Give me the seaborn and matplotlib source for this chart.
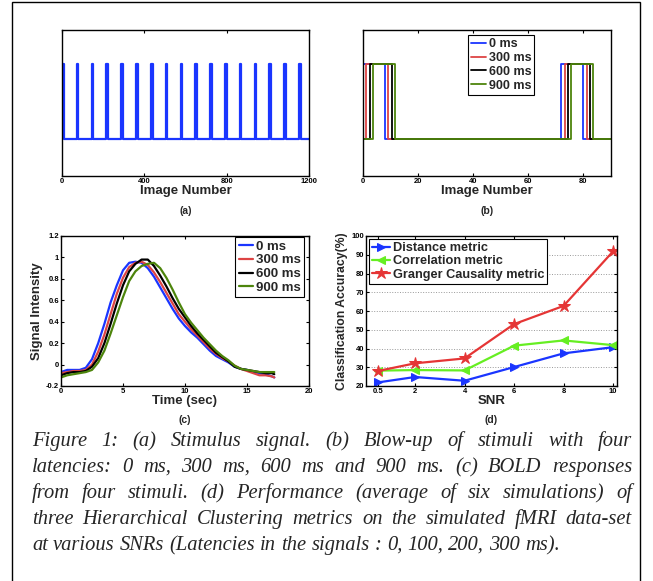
import numpy as np
import pandas as pd
import matplotlib
matplotlib.use("Agg")
import matplotlib.pyplot as plt
import seaborn as sns
from matplotlib.patches import Rectangle

# ---------------- data ----------------
stim_onsets_a = [0, 72, 144, 216, 288, 360, 432, 504, 576, 648, 720, 792,
                 864, 936, 1008, 1080, 1152]
stim_duration = 8
n_images_a = 1200
xticks_a = [0, 400, 800, 1200]

latency_labels = ["0 ms", "300 ms", "600 ms", "900 ms"]
latency_shift_images = [0, 1.2, 2.4, 3.6]
onsets_b = [0, 72]
n_images_b = 90
xticks_b = [0, 20, 40, 60, 80]

bold_time = [0, 0.5, 1, 1.5, 2, 2.5, 3, 3.5, 4, 4.5, 5, 5.5, 6, 6.5, 7, 7.5, 8,
             8.5, 9, 9.5, 10, 10.5, 11, 11.5, 12, 12.5, 13, 13.5, 14, 14.5, 15,
             15.5, 16, 16.5, 17, 17.2]
bold_0ms = [-0.07, -0.05, -0.05, -0.05, -0.03, 0.05, 0.20, 0.38, 0.58, 0.74, 0.88,
            0.95, 0.96, 0.95, 0.90, 0.82, 0.72, 0.62, 0.52, 0.43, 0.36, 0.30, 0.25,
            0.19, 0.13, 0.08, 0.05, 0.02, -0.02, -0.04, -0.05, -0.07, -0.08, -0.09,
            -0.11, -0.12]
bold_300ms = [-0.08, -0.07, -0.06, -0.06, -0.05, 0.00, 0.12, 0.28, 0.47, 0.66, 0.81,
              0.91, 0.95, 0.96, 0.93, 0.86, 0.77, 0.67, 0.57, 0.47, 0.40, 0.33, 0.27,
              0.21, 0.15, 0.10, 0.06, 0.03, -0.01, -0.04, -0.06, -0.08, -0.10, -0.10,
              -0.11, -0.12]
bold_600ms = [-0.10, -0.08, -0.07, -0.07, -0.06, -0.02, 0.06, 0.20, 0.38, 0.57, 0.74,
              0.87, 0.94, 0.98, 0.98, 0.92, 0.83, 0.73, 0.62, 0.52, 0.44, 0.36, 0.29,
              0.23, 0.17, 0.11, 0.07, 0.03, -0.02, -0.04, -0.05, -0.06, -0.07, -0.08,
              -0.08, -0.09]
bold_900ms = [-0.12, -0.10, -0.09, -0.08, -0.07, -0.05, 0.02, 0.13, 0.29, 0.46, 0.63,
              0.78, 0.87, 0.92, 0.94, 0.95, 0.90, 0.81, 0.70, 0.58, 0.47, 0.39, 0.32,
              0.25, 0.19, 0.13, 0.08, 0.04, -0.01, -0.04, -0.05, -0.06, -0.07, -0.07,
              -0.07, -0.07]
yticks_c = [-0.2, 0, 0.2, 0.4, 0.6, 0.8, 1, 1.2]
yticklabels_c = ["-0.2", "0", "0.2", "0.4", "0.6", "0.8", "1", "1.2"]
xticks_c = [0, 5, 10, 15, 20]

snr = [0.5, 2, 4, 6, 8, 10]
snr_labels = ["0.5", "2", "4", "6", "8", "10"]
acc_distance = [21.9, 24.8, 22.8, 30.1, 37.4, 40.7]
acc_correlation = [28.2, 28.5, 28.3, 41.5, 44.3, 41.8]
acc_granger = [28.0, 32.1, 34.7, 53.0, 62.7, 91.8]
metric_labels = ["Distance metric", "Correlation metric", "Granger Causality metric"]

caption_lines = [
    "Figure 1: (a) Stimulus signal. (b) Blow-up of stimuli with four",
    "latencies: 0 ms, 300 ms, 600 ms and 900 ms. (c) BOLD responses",
    "from four stimuli. (d) Performance (average of six simulations) of",
    "three Hierarchical Clustering metrics on the simulated fMRI data-set",
    "at various SNRs (Latencies in the signals : 0, 100, 200, 300 ms).",
]

# ---------------- style ----------------
sns.set_theme(style="ticks")
plt.rcParams.update({
    "font.family": ["Liberation Sans", "DejaVu Sans"],
    "font.weight": "bold",
    "axes.labelweight": "bold",
    "axes.unicode_minus": False,
    "xtick.direction": "in", "ytick.direction": "in",
    "xtick.top": True, "ytick.right": True,
    "xtick.major.size": 2.5, "ytick.major.size": 2.5,
    "xtick.major.width": 0.8, "ytick.major.width": 0.8,
    "xtick.major.pad": 1.5, "ytick.major.pad": 1.5,
    "axes.linewidth": 1.0, "axes.edgecolor": "black",
    "xtick.color": "black", "ytick.color": "black",
    "legend.fancybox": False, "legend.framealpha": 1.0,
    "legend.edgecolor": "black",
})

BLUE = "#1a35ff"
RED = "#dd4444"
BLACK = "#000000"
GREEN = "#4d850c"
LIME = "#66ee22"
RED_D = "#e53535"

W, H = 653, 581
fig = plt.figure(figsize=(W / 100, H / 100), dpi=100)
fig.patch.set_facecolor("white")

# outer box
fig.patches.append(Rectangle((12 / W, -0.1), (640 - 12) / W, 1.1 - 2 / H,
                             transform=fig.transFigure, fill=False,
                             edgecolor="black", linewidth=1.0))


def axpos(l, t, r, b):
    return [l / W, 1 - b / H, (r - l) / W, (b - t) / H]


def boxcar(onsets, dur, shift, end):
    xs, ys = [0.0], [0.0]
    for on in onsets:
        s = on + shift
        xs += [s, s, s + dur, s + dur]
        ys += [0, 1, 1, 0]
    xs.append(end)
    ys.append(0)
    return xs, ys


TICK_FS = 5.5
LABEL_FS = 9.5

# ---------- (a) ----------
ax_a = fig.add_axes(axpos(62, 30, 309, 176))
xs, ys = boxcar(stim_onsets_a, stim_duration, 0, n_images_a)
sns.lineplot(x=xs, y=ys, sort=False, estimator=None, color=BLUE, linewidth=1.6, ax=ax_a)
ax_a.set_xlim(0, n_images_a)
ax_a.set_ylim(-0.5, 1.45)
ax_a.set_xticks(xticks_a)
ax_a.set_xticklabels([str(v) for v in xticks_a], fontsize=TICK_FS, fontweight="bold")
ax_a.set_yticks([])
ax_a.set_xlabel("Image Number", fontsize=LABEL_FS, labelpad=0)

# ---------- (b) ----------
ax_b = fig.add_axes(axpos(363, 30, 611, 176))
for lab, sh, col in zip(latency_labels, latency_shift_images, [BLUE, RED, BLACK, GREEN]):
    xs, ys = boxcar(onsets_b, stim_duration, sh, n_images_b)
    sns.lineplot(x=xs, y=ys, sort=False, estimator=None, color=col, linewidth=1.3,
                 ax=ax_b, label=lab)
ax_b.set_xlim(0, n_images_b)
ax_b.set_ylim(-0.5, 1.45)
ax_b.set_xticks(xticks_b)
ax_b.set_xticklabels([str(v) for v in xticks_b], fontsize=TICK_FS, fontweight="bold")
ax_b.set_yticks([])
ax_b.set_xlabel("Image Number", fontsize=LABEL_FS, labelpad=0)
leg = ax_b.legend(loc="upper left", bbox_to_anchor=(0.423, 0.966), borderaxespad=0,
                  prop={"size": 9, "weight": "bold"}, handlelength=1.2,
                  handletextpad=0.2, borderpad=0.25, labelspacing=0.15)
leg.get_frame().set_linewidth(0.8)

# ---------- (c) ----------
ax_c = fig.add_axes(axpos(61, 236, 309, 386))
bold_df = pd.DataFrame({"t": bold_time, "0 ms": bold_0ms, "300 ms": bold_300ms,
                        "600 ms": bold_600ms, "900 ms": bold_900ms})
for lab, col in zip(latency_labels, [BLUE, RED, BLACK, GREEN]):
    sns.lineplot(data=bold_df, x="t", y=lab, color=col, linewidth=1.6, ax=ax_c, label=lab)
ax_c.set_xlim(0, 20)
ax_c.set_ylim(-0.2, 1.2)
ax_c.set_xticks(xticks_c)
ax_c.set_xticklabels([str(v) for v in xticks_c], fontsize=TICK_FS, fontweight="bold")
ax_c.set_yticks(yticks_c)
ax_c.set_yticklabels(yticklabels_c, fontsize=TICK_FS, fontweight="bold")
ax_c.set_xlabel("Time (sec)", fontsize=LABEL_FS, labelpad=0)
ax_c.set_ylabel("Signal Intensity", fontsize=LABEL_FS, labelpad=2)
leg = ax_c.legend(loc="upper right", bbox_to_anchor=(0.98, 0.993), borderaxespad=0,
                  prop={"size": 9.5, "weight": "bold"}, handlelength=1.1,
                  handletextpad=0.2, borderpad=0.25, labelspacing=0.12)
leg.get_frame().set_linewidth(0.8)

# ---------- (d) ----------
ax_d = fig.add_axes(axpos(366, 236, 617, 386))
acc_df = pd.DataFrame({"SNR": snr, "dist": acc_distance, "corr": acc_correlation,
                       "gran": acc_granger})
for col_name, lab, col, mk, ms in zip(["dist", "corr", "gran"], metric_labels,
                                      [BLUE, LIME, RED_D], [">", "<", "*"], [6, 6, 9]):
    sns.lineplot(data=acc_df, x="SNR", y=col_name, color=col, linewidth=1.6, marker=mk,
                 markersize=ms, markeredgecolor=col, ax=ax_d, label=lab)
ax_d.set_xlim(0.02, 10.16)
ax_d.set_ylim(20, 100)
ax_d.set_xticks(snr)
ax_d.set_xticklabels(snr_labels, fontsize=TICK_FS, fontweight="bold")
ax_d.set_yticks(range(20, 101, 10))
ax_d.set_yticklabels([str(v) for v in range(20, 101, 10)], fontsize=TICK_FS,
                     fontweight="bold")
ax_d.yaxis.grid(True, linestyle=":", color="#999999", linewidth=0.7)
ax_d.set_xlabel("SNR", fontsize=LABEL_FS, labelpad=0)
ax_d.set_ylabel("Classification Accuracy(%)", fontsize=8.8, labelpad=2)
leg = ax_d.legend(loc="upper left", bbox_to_anchor=(0.012, 0.98), borderaxespad=0,
                  prop={"size": 9.2, "weight": "bold"}, handlelength=1.4,
                  handletextpad=0.2, borderpad=0.25, labelspacing=0.1)
leg.get_frame().set_linewidth(0.8)

# sub-figure labels
for lab, (xc, yc) in zip(["(a)", "(b)", "(c)", "(d)"],
                         [(186, 211), (487, 211), (185, 420), (491, 420)]):
    fig.text(xc / W, 1 - yc / H, lab, ha="center", va="center", fontsize=7.5,
             fontweight="bold")

# ---------- caption (justified) ----------
fig.canvas.draw()
renderer = fig.canvas.get_renderer()
cap_left, cap_right = 32, 632
baselines = [446, 472, 498, 524, 550]
cap_kw = dict(family=["Liberation Serif", "DejaVu Serif"], style="italic",
              fontweight="normal", fontsize=14.8, va="baseline", ha="left")
space_t = fig.text(0, 0, "a a", **cap_kw)
aa_t = fig.text(0, 0, "aa", **cap_kw)
space_w = space_t.get_window_extent(renderer).width - aa_t.get_window_extent(renderer).width
space_t.remove()
aa_t.remove()
for i, (line, yb) in enumerate(zip(caption_lines, baselines)):
    words = line.split(" ")
    texts = [fig.text(0, 1 - yb / H, w, **cap_kw) for w in words]
    widths = [t.get_window_extent(renderer).width for t in texts]
    if i < len(caption_lines) - 1:
        gap = (cap_right - cap_left - sum(widths)) / (len(words) - 1)
    else:
        gap = space_w
    x = cap_left
    for t, w in zip(texts, widths):
        t.set_x(x / W)
        x += w + gap

fig.savefig("out.png", dpi=100)
